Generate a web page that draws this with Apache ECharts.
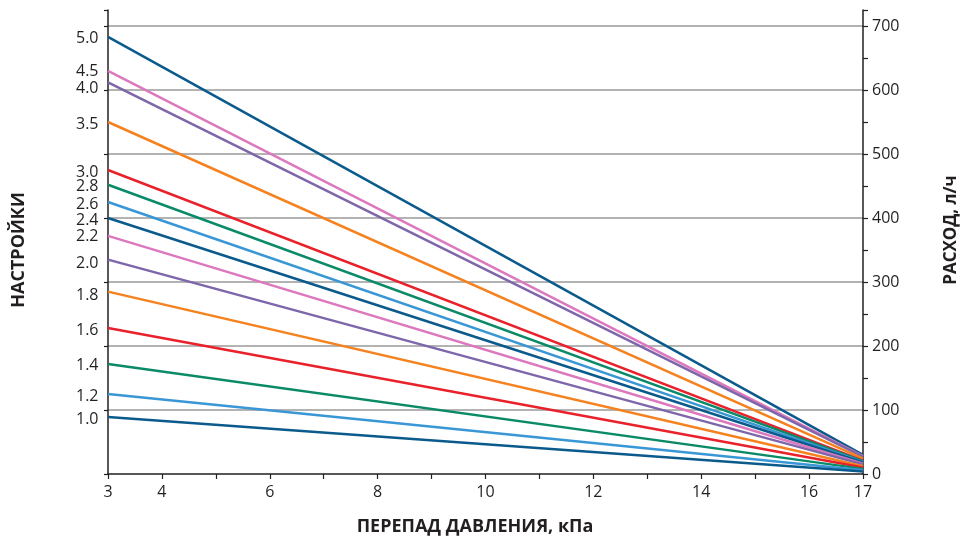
<!DOCTYPE html>
<html>
<head>
<meta charset="utf-8">
<script src="https://cdn.jsdelivr.net/npm/echarts@6/dist/echarts.min.js"></script>
<style>
html,body{margin:0;padding:0;background:#fff;}
#c{width:961px;height:538px;}
</style>
</head>
<body>
<div id="c"></div>
<script>
// Settings (line names), start flow at 3 kPa, end flow at 17 kPa
const settings = ['5.0','4.5','4.0','3.5','3.0','2.8','2.6','2.4','2.2','2.0','1.8','1.6','1.4','1.2','1.0'];
const flowAt3 = [683, 630, 612, 550, 475, 452, 425, 400, 372, 335, 285, 228, 172, 125, 89];
const flowAt17 = [30, 28, 27, 24, 21, 20, 19, 18, 16, 15, 12, 10, 8, 6, 4];
const pressureRange = [3, 17];
const xLabelValues = [3, 4, 6, 8, 10, 12, 14, 16, 17];
const colors = ['#0b5a8c','#dc78be','#7d66aa','#f5821f','#e8212b','#0b8a68','#3a97d6',
                '#0b5a8c','#dc78be','#7d66aa','#f5821f','#e8212b','#0b8a68','#3a97d6','#0b5a8c'];
// vertical nudges (px, downward) of setting labels
const labelShift = {'4.0':6, '4.5':1, '1.8':4, '2.0':4, '2.2':1};

const FONT = 'Open Sans';
const chart = echarts.init(document.getElementById('c'), null, {renderer:'canvas'});

const series = settings.map((s, i) => {
  const sh = (s in labelShift) ? labelShift[s] : 2;
  return {
    name: s,
    type: 'line',
    symbol: 'circle',
    symbolSize: 1,
    showSymbol: true,
    itemStyle: {color: 'rgba(0,0,0,0)', borderWidth: 0},
    lineStyle: {color: colors[i], width: 2.5},
    emphasis: {disabled: true},
    labelLayout: {hideOverlap: false, dy: sh},
    label: {show: true, position: 'left', distance: 9,
            formatter: p => (p.dataIndex === 0 ? s : ''),
            color: '#231f20', fontFamily: FONT, fontSize: 16},
    animation: false,
    z: 5,
    data: [
      [pressureRange[0], flowAt3[i]],
      [pressureRange[1], flowAt17[i]]
    ]
  };
});

const option = {
  backgroundColor: '#fff',
  animation: false,
  grid: {left: 108, right: 98, top: 10, bottom: 64},
  xAxis: {
    type: 'value', min: 3, max: 17, interval: 1,
    axisLine: {show: true, lineStyle: {color: '#231f20', width: 1.5}},
    axisTick: {show: true, length: 5, lineStyle: {color: '#231f20', width: 1.2}},
    splitLine: {show: false},
    axisLabel: {
      margin: 10, color: '#231f20', fontFamily: FONT, fontSize: 16,
      formatter: v => xLabelValues.indexOf(v) >= 0 ? String(v) : ''
    }
  },
  yAxis: [
    {
      type: 'value', min: 0, max: 725, interval: 100, position: 'left',
      axisLine: {show: true, lineStyle: {color: '#231f20', width: 1.5}},
      axisTick: {show: true, length: 4, lineStyle: {color: '#231f20', width: 1.2}},
      axisLabel: {show: false},
      splitLine: {show: true, showMaxLine: false, showMinLine: false, lineStyle: {color: '#9a9a9a', width: 1.5}}
    },
    {
      type: 'value', min: 0, max: 725, interval: 100, position: 'right',
      axisLine: {show: true, lineStyle: {color: '#231f20', width: 1.5}},
      axisTick: {show: true, length: 5, lineStyle: {color: '#231f20', width: 1.2}},
      minorTick: {show: true, splitNumber: 2, length: 5, lineStyle: {color: '#231f20', width: 1.2}},
      axisLabel: {
        margin: 9, color: '#231f20', fontFamily: FONT, fontSize: 16, showMaxLabel: false,
        formatter: v => (v % 100 === 0 ? String(v) : '')
      },
      splitLine: {show: false}
    }
  ],
  graphic: [
    {type: 'text', x: 475, y: 527,
     style: {text: 'ПЕРЕПАД ДАВЛЕНИЯ, кПа', font: 'bold 18px "Open Sans"', fill: '#231f20', align: 'center', verticalAlign: 'middle'}},
    {type: 'text', x: 19, y: 250, rotation: Math.PI/2,
     style: {text: 'НАСТРОЙКИ', font: 'bold 18px "Open Sans"', fill: '#231f20', align: 'center', verticalAlign: 'middle'}},
    {type: 'text', x: 951, y: 230, rotation: Math.PI/2,
     style: {text: 'РАСХОД, л/ч', font: 'bold 17px "Open Sans"', fill: '#231f20', align: 'center', verticalAlign: 'middle'}}
  ],
  series: series
};
chart.setOption(option);
</script>
</body>
</html>
